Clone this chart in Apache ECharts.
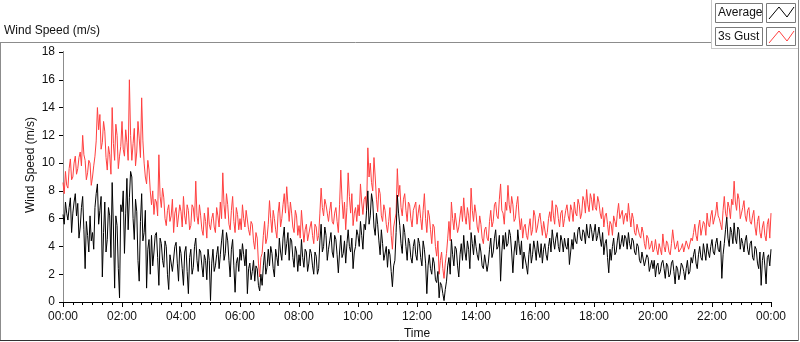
<!DOCTYPE html>
<html>
<head>
<meta charset="utf-8">
<script src="https://cdn.jsdelivr.net/npm/echarts@6/dist/echarts.min.js"></script>
<style>
html, body { margin: 0; padding: 0; background: #fff; }
#chart { width: 800px; height: 342px; }
</style>
</head>
<body>
<div id="chart"></div>
<script>
// readings every 5 minutes (hh:00, hh:05 ...), 12 per row = 1 hour, last value is 24:00
const stepMinutes = 5

const gust = [
  8.6, 9.4, 8.2, 10.3, 9.0, 10.5, 9.6, 10.8, 12.0, 10.2, 9.3, 10.0,
  9.0, 10.5, 14.0, 13.5, 11.5, 12.3, 9.5, 10.6, 14.0, 10.2, 12.0, 10.5,
  13.0, 10.5, 11.5, 16.0, 10.2, 12.5, 10.8, 11.8, 14.7, 10.0, 8.5, 9.5,
  7.0, 6.3, 7.2, 10.6, 6.8, 7.5, 5.5, 7.0, 6.2, 5.0, 6.8, 5.4,
  6.5, 7.6, 5.6, 6.6, 5.5, 6.8, 8.7, 5.6, 6.2, 4.8, 5.8, 6.8,
  5.2, 6.4, 5.0, 6.2, 7.2, 9.3, 6.0, 7.0, 5.2, 7.6, 5.0, 6.3,
  6.0, 7.0, 5.4, 6.5, 4.8, 5.6, 3.8, 4.6, 1.8, 3.5, 5.8, 4.6,
  7.3, 5.0, 6.0, 4.6, 7.2, 6.0, 7.8, 8.3, 5.8, 6.4, 5.0, 6.2,
  5.5, 6.6, 4.3, 5.6, 4.5, 5.8, 4.2, 5.4, 4.8, 8.2, 6.2, 7.0,
  5.8, 7.2, 5.6, 6.8, 5.0, 9.5, 6.0, 5.2, 9.3, 6.4, 5.5, 6.8,
  7.0, 8.5, 6.3, 7.6, 11.1, 10.0, 8.0, 9.0, 6.5, 7.8, 5.8, 6.6,
  5.0, 6.8, 3.8, 5.5, 9.6, 8.4, 6.2, 7.8, 5.8, 7.0, 5.4, 6.6,
  5.6, 7.0, 5.2, 7.8, 5.0, 6.2, 4.2, 5.4, 3.3, 2.0, 3.6, 1.7,
  3.5, 5.8, 7.2, 5.2, 6.4, 5.4, 6.9, 7.5, 5.6, 6.2, 8.2, 5.8,
  6.4, 5.0, 5.6, 4.2, 5.4, 4.4, 6.6, 5.8, 7.2, 6.0, 8.5, 6.4,
  7.2, 8.4, 6.4, 7.0, 6.0, 7.6, 5.2, 4.6, 5.6, 4.5, 6.0, 5.2,
  6.2, 5.4, 6.4, 4.8, 5.8, 5.0, 6.5, 7.3, 5.6, 6.8, 5.4, 6.6,
  6.0, 7.0, 5.8, 6.6, 7.2, 6.2, 7.0, 6.4, 7.3, 8.1, 6.5, 7.4,
  7.8, 6.6, 7.2, 6.0, 5.4, 6.4, 4.8, 5.6, 6.2, 5.4, 7.1, 6.0,
  5.6, 6.4, 7.1, 5.4, 6.0, 4.8, 5.6, 4.6, 5.0, 3.8, 4.6, 4.0,
  3.6, 4.5, 3.4, 3.8, 4.9, 3.6, 4.2, 3.4, 5.2, 3.8, 4.4, 3.5,
  4.2, 3.6, 4.5, 3.8, 4.4, 5.6, 4.4, 5.9, 4.8, 5.6, 6.4, 5.4,
  6.6, 5.6, 7.2, 6.0, 5.2, 7.6, 6.0, 6.8, 7.4, 8.7, 6.6, 7.4,
  6.4, 7.3, 5.8, 6.8, 5.6, 6.6, 4.8, 6.2, 4.6, 5.8, 4.4, 6.0,
  6.4
]

// readings halfway between (hh:02.5, hh:07.5 ...)
const gustMid = [
  7.8, 8.4, 9.6, 8.8, 10.0, 9.2, 10.4, 9.8, 10.6, 8.8, 10.2, 8.4,
  9.8, 11.6, 12.4, 11.0, 13.0, 10.4, 11.2, 9.2, 11.4, 12.8, 9.6, 11.2,
  11.0, 12.4, 10.2, 12.0, 11.4, 9.8, 13.0, 10.4, 11.6, 9.0, 10.2, 8.0,
  8.0, 7.4, 6.2, 7.6, 8.2, 6.0, 6.6, 5.8, 7.4, 6.4, 5.4, 7.0,
  5.4, 6.2, 7.0, 5.2, 7.0, 5.8, 6.2, 7.0, 5.2, 6.4, 4.6, 5.6,
  6.0, 5.4, 6.8, 5.4, 6.0, 7.0, 7.8, 5.6, 6.6, 5.8, 6.8, 5.2,
  5.2, 6.0, 6.6, 5.2, 5.8, 4.4, 5.0, 2.8, 3.2, 4.8, 4.2, 5.6,
  6.0, 6.6, 5.2, 6.4, 5.4, 7.0, 6.4, 7.0, 7.2, 5.4, 6.6, 4.8,
  4.6, 5.4, 5.2, 4.4, 5.4, 4.8, 5.6, 4.4, 6.4, 6.8, 7.4, 6.4,
  6.6, 5.8, 6.4, 5.8, 7.0, 7.4, 7.2, 6.8, 7.6, 7.8, 6.4, 5.8,
  6.2, 7.2, 7.4, 6.6, 9.0, 8.6, 10.4, 7.4, 8.2, 6.2, 7.0, 5.6,
  5.8, 4.8, 5.4, 6.4, 7.6, 6.8, 7.4, 6.6, 7.2, 6.0, 6.6, 7.2,
  6.4, 6.0, 6.6, 6.0, 6.6, 5.2, 5.6, 4.0, 4.4, 3.0, 2.4, 2.8,
  4.6, 4.4, 6.0, 6.4, 5.0, 6.2, 5.8, 6.2, 6.8, 5.2, 6.6, 7.0,
  5.4, 6.2, 4.6, 5.2, 4.6, 5.8, 5.4, 7.0, 6.2, 7.4, 6.6, 5.6,
  6.6, 7.0, 7.6, 5.8, 7.0, 6.2, 6.0, 5.4, 4.8, 5.4, 4.8, 6.6,
  5.0, 6.0, 5.6, 5.8, 4.6, 6.0, 5.8, 6.2, 7.0, 6.0, 6.4, 5.4,
  6.6, 6.2, 7.0, 5.8, 6.4, 7.4, 6.0, 7.6, 6.4, 7.0, 7.8, 6.6,
  6.8, 7.6, 6.4, 6.8, 6.2, 5.6, 5.8, 4.8, 5.8, 6.4, 6.0, 6.6,
  6.2, 5.8, 6.2, 6.4, 5.0, 5.6, 4.8, 5.4, 4.2, 4.8, 3.8, 4.4,
  3.8, 3.8, 4.2, 3.4, 4.0, 4.4, 3.6, 4.2, 4.4, 4.0, 3.6, 3.9,
  3.6, 4.4, 3.8, 4.6, 5.0, 4.8, 5.4, 4.8, 5.8, 4.8, 5.6, 6.2,
  5.6, 6.4, 6.2, 5.6, 6.6, 6.4, 7.2, 6.0, 7.0, 7.2, 7.8, 6.0,
  6.8, 6.2, 6.6, 5.8, 6.2, 5.4, 5.8, 5.0, 5.4, 4.8, 5.6, 4.6
]

const average = [
  6.3, 7.2, 5.9, 7.5, 6.4, 7.8, 7.1, 5.4, 7.6, 2.4, 4.8, 6.2,
  5.0, 6.8, 8.5, 6.6, 1.8, 7.2, 4.5, 6.2, 8.6, 1.0, 5.5, 0.3,
  6.5, 3.5, 8.9, 7.5, 9.0, 4.5, 6.5, 1.5, 7.8, 5.0, 1.0, 4.5,
  4.8, 3.6, 5.0, 1.2, 4.2, 2.5, 4.0, 0.9, 3.5, 2.2, 4.3, 1.5,
  3.5, 1.2, 4.0, 0.6, 3.8, 2.5, 4.6, 2.2, 3.6, 1.8, 3.0, 3.8,
  0.1, 3.8, 2.6, 4.0, 3.4, 5.2, 3.5, 4.4, 1.8, 4.5, 0.7, 3.2,
  3.8, 4.2, 2.6, 0.6, 2.8, 2.2, 1.5, 2.4, 0.8, 1.2, 3.6, 2.5,
  2.6, 3.5, 1.8, 3.2, 4.6, 3.0, 5.4, 4.2, 3.0, 4.4, 2.5, 3.6,
  3.4, 4.5, 2.5, 3.6, 2.8, 3.5, 2.0, 3.3, 2.4, 5.6, 4.0, 4.8,
  3.8, 5.0, 3.2, 4.5, 2.1, 4.8, 3.5, 2.8, 5.2, 3.6, 2.4, 4.0,
  4.8, 5.8, 3.8, 5.2, 8.0, 6.2, 7.2, 4.8, 5.6, 3.4, 4.2, 3.0,
  2.5, 3.4, 1.1, 3.0, 7.7, 5.5, 3.5, 5.0, 3.0, 4.2, 2.8, 4.5,
  3.0, 4.2, 2.6, 3.8, 0.6, 3.4, 2.0, 2.8, 1.4, 0.3, 1.2, 0.1,
  1.5, 3.2, 4.5, 2.6, 3.8, 1.8, 4.2, 4.8, 3.0, 3.8, 5.0, 3.4,
  4.0, 3.0, 3.6, 2.4, 3.5, 2.8, 4.6, 3.6, 5.2, 4.0, 1.5, 4.8,
  5.0, 4.2, 4.8, 2.1, 4.4, 5.2, 3.4, 2.4, 3.5, 2.0, 4.2, 3.4,
  3.8, 4.4, 3.2, 2.8, 4.2, 3.0, 4.6, 5.2, 3.8, 5.0, 3.6, 4.4,
  4.6, 3.8, 2.7, 4.5, 5.0, 4.2, 5.4, 4.4, 5.0, 5.6, 4.6, 5.2,
  5.0, 4.4, 5.4, 4.0, 3.4, 4.5, 2.1, 3.0, 4.6, 3.6, 5.0, 4.2,
  4.0, 4.6, 5.0, 3.8, 4.4, 3.4, 4.0, 2.8, 3.6, 2.5, 3.2, 2.6,
  2.4, 1.8, 2.8, 2.2, 3.0, 1.7, 2.6, 2.0, 3.0, 1.3, 2.4, 2.0,
  2.6, 1.6, 3.0, 2.2, 2.8, 3.8, 2.4, 4.0, 3.0, 3.6, 4.2, 3.2,
  4.5, 3.4, 4.6, 3.6, 1.7, 4.2, 6.1, 4.0, 5.0, 5.7, 4.2, 5.2,
  4.6, 3.6, 4.8, 3.4, 4.4, 3.0, 3.8, 2.4, 1.2, 3.6, 1.3, 3.4,
  3.8
]

const averageMid = [
  5.6, 6.4, 6.8, 5.0, 7.2, 6.2, 4.6, 6.8, 5.2, 5.8, 3.6, 4.4,
  3.8, 7.8, 5.6, 7.6, 5.0, 3.6, 6.8, 3.2, 5.4, 6.2, 2.4, 7.0,
  8.0, 6.4, 5.2, 9.4, 6.0, 7.4, 3.0, 5.8, 4.4, 6.6, 3.8, 2.0,
  2.6, 4.8, 3.2, 4.6, 3.0, 4.4, 2.0, 3.4, 2.2, 4.0, 2.8, 4.0,
  2.4, 3.6, 2.2, 3.2, 2.0, 4.0, 3.0, 3.8, 2.6, 3.4, 1.6, 3.0,
  2.8, 2.2, 3.4, 2.4, 4.4, 3.0, 5.0, 3.0, 3.8, 2.6, 2.8, 2.2,
  3.0, 3.4, 3.8, 2.4, 1.6, 3.0, 2.6, 1.2, 2.0, 2.6, 2.0, 3.8,
  4.0, 2.4, 3.8, 2.6, 3.6, 4.6, 3.4, 5.0, 4.6, 3.2, 4.0, 2.2,
  2.6, 3.2, 3.8, 2.2, 3.8, 2.6, 3.6, 2.0, 4.4, 3.6, 5.4, 3.0,
  4.4, 3.6, 4.8, 3.4, 3.6, 3.2, 4.4, 4.2, 4.0, 4.6, 3.6, 5.2,
  4.0, 4.8, 5.6, 6.6, 5.6, 7.8, 5.4, 6.4, 4.4, 5.2, 3.0, 4.0,
  3.8, 2.2, 2.6, 5.0, 6.4, 4.2, 5.6, 4.0, 4.6, 3.2, 4.0, 3.4,
  4.6, 3.2, 4.4, 2.8, 2.6, 2.4, 3.2, 1.6, 2.2, 1.4, 0.6, 0.9,
  2.6, 2.0, 3.4, 4.0, 2.6, 3.4, 3.0, 3.6, 4.4, 2.4, 4.2, 4.8,
  3.4, 4.2, 2.6, 3.4, 2.2, 3.8, 3.2, 4.6, 3.8, 4.8, 3.6, 3.8,
  4.0, 5.2, 3.6, 3.6, 3.4, 4.2, 4.4, 3.6, 2.6, 3.4, 2.8, 4.4,
  3.0, 3.6, 4.2, 3.8, 3.4, 4.0, 3.6, 4.4, 4.6, 4.0, 4.8, 3.6,
  4.0, 4.6, 3.6, 3.8, 4.4, 5.2, 4.6, 5.2, 4.2, 4.8, 5.6, 4.4,
  5.6, 4.8, 4.6, 5.0, 4.2, 3.2, 3.8, 4.0, 3.4, 4.4, 3.8, 4.8,
  4.8, 3.8, 4.2, 4.6, 3.6, 4.2, 3.0, 3.6, 2.6, 3.4, 2.2, 3.0,
  3.0, 2.6, 2.0, 2.8, 2.4, 2.8, 1.8, 2.8, 2.2, 2.6, 1.6, 2.8,
  2.2, 2.4, 2.0, 3.2, 3.4, 2.8, 3.4, 3.2, 4.2, 3.0, 3.6, 4.0,
  3.6, 4.2, 3.8, 4.4, 3.4, 5.2, 4.6, 5.4, 4.2, 4.6, 5.4, 3.8,
  4.2, 4.4, 3.8, 4.2, 3.2, 4.0, 2.8, 3.6, 3.0, 2.6, 3.2, 2.6
]

const tickLabels = ['00:00', '02:00', '04:00', '06:00', '08:00', '10:00', '12:00',
  '14:00', '16:00', '18:00', '20:00', '22:00', '00:00']

const font = 'Liberation Sans, Arial, sans-serif'
const textColor = '#111'

// [minute, value] pairs: on-step reading, then the half-step reading after it
function toPoints (main, mid) {
  const pts = []
  main.forEach((v, i) => {
    pts.push([i * stepMinutes, v])
    if (i < mid.length) pts.push([i * stepMinutes + stepMinutes / 2, mid[i]])
  })
  return pts
}

const chart = echarts.init(document.getElementById('chart'))
chart.setOption({
  animation: false,
  backgroundColor: '#fff',
  textStyle: { fontFamily: font },
  grid: { left: 63, right: 29, top: 52, bottom: 40, containLabel: false, outerBoundsMode: 'none' },
  xAxis: [
    {
      type: 'value',
      min: 0,
      max: 1440,
      interval: 120,
      name: 'Time',
      nameLocation: 'middle',
      nameGap: 26,
      nameTextStyle: { fontSize: 12, color: textColor, fontFamily: font },
      axisLine: { show: true, lineStyle: { color: '#8c8c8c', width: 1 } },
      axisTick: { show: true, length: 5, lineStyle: { color: '#000' } },
      minorTick: { show: true, splitNumber: 6, length: 3, lineStyle: { color: '#000' } },
      axisLabel: {
        fontSize: 12,
        color: textColor,
        margin: 9,
        formatter: v => tickLabels[Math.round(v / 120)]
      },
      splitLine: { show: false }
    },
    {
      type: 'value',
      position: 'top',
      min: 0,
      max: 1440,
      axisLine: { show: true, lineStyle: { color: '#000', width: 1 } },
      axisTick: { show: false },
      axisLabel: { show: false },
      splitLine: { show: false }
    }
  ],
  yAxis: [
    {
      type: 'value',
      min: 0,
      max: 18,
      interval: 2,
      axisLine: { show: true, lineStyle: { color: '#000', width: 1 } },
      axisTick: { show: true, length: 4, lineStyle: { color: '#000' } },
      axisLabel: { fontSize: 12, color: textColor, margin: 8 },
      splitLine: { show: false }
    },
    {
      type: 'value',
      position: 'right',
      min: 0,
      max: 18,
      axisLine: { show: true, lineStyle: { color: '#8c8c8c', width: 1 } },
      axisTick: { show: false },
      axisLabel: { show: false },
      splitLine: { show: false }
    }
  ],
  series: [
    {
      name: '3s Gust',
      type: 'line',
      data: toPoints(gust, gustMid),
      showSymbol: false,
      lineStyle: { color: '#ff4040', width: 1 },
      itemStyle: { color: '#ff4040' }
    },
    {
      name: 'Average',
      type: 'line',
      data: toPoints(average, averageMid),
      showSymbol: false,
      lineStyle: { color: '#000', width: 1 },
      itemStyle: { color: '#000' }
    }
  ],
  graphic: [
    // outer panel frame
    { type: 'line', shape: { x1: 0, y1: 42.5, x2: 711, y2: 42.5 }, style: { stroke: '#8c8c8c' } },
    { type: 'line', shape: { x1: 0.5, y1: 42, x2: 0.5, y2: 341 }, style: { stroke: '#8c8c8c' } },
    { type: 'line', shape: { x1: 0, y1: 340.5, x2: 799, y2: 340.5 }, style: { stroke: '#333' } },
    { type: 'line', shape: { x1: 711.5, y1: 0, x2: 711.5, y2: 48 }, style: { stroke: '#c8c8c8' } },
    { type: 'line', shape: { x1: 711, y1: 48.5, x2: 799, y2: 48.5 }, style: { stroke: '#c8c8c8' } },
    { type: 'line', shape: { x1: 798.5, y1: 0, x2: 798.5, y2: 341 }, style: { stroke: '#8c8c8c' } },
    // chart title
    {
      type: 'text', left: 4, top: 25,
      style: { text: 'Wind Speed (m/s)', font: '12px ' + font, fill: textColor }
    },
    // y axis title
    {
      type: 'text', x: 31, y: 165, rotation: Math.PI / 2,
      style: {
        text: 'Wind Speed (m/s)', font: '12px ' + font, fill: textColor,
        align: 'center', verticalAlign: 'middle'
      }
    },
    // legend rows
    { type: 'rect', shape: { x: 715.5, y: 3.5, width: 47, height: 19 }, style: { fill: '#fff', stroke: '#7a7a7a' } },
    { type: 'text', x: 718, y: 13, style: { text: 'Average', font: '12px ' + font, fill: textColor, verticalAlign: 'middle' } },
    { type: 'rect', shape: { x: 766.5, y: 3.5, width: 29, height: 19 }, style: { fill: '#fff', stroke: '#7a7a7a' } },
    { type: 'polyline', shape: { points: [[769, 19], [779, 7], [787, 17], [794, 7]] }, style: { stroke: '#000', fill: null } },
    { type: 'rect', shape: { x: 715.5, y: 27.5, width: 47, height: 18 }, style: { fill: '#fff', stroke: '#7a7a7a' } },
    { type: 'text', x: 718, y: 37, style: { text: '3s Gust', font: '12px ' + font, fill: textColor, verticalAlign: 'middle' } },
    { type: 'rect', shape: { x: 766.5, y: 27.5, width: 29, height: 18 }, style: { fill: '#fff', stroke: '#7a7a7a' } },
    { type: 'polyline', shape: { points: [[769, 43], [779, 31], [787, 41], [794, 31]] }, style: { stroke: '#ff4040', fill: null } }
  ]
})
</script>
</body>
</html>
